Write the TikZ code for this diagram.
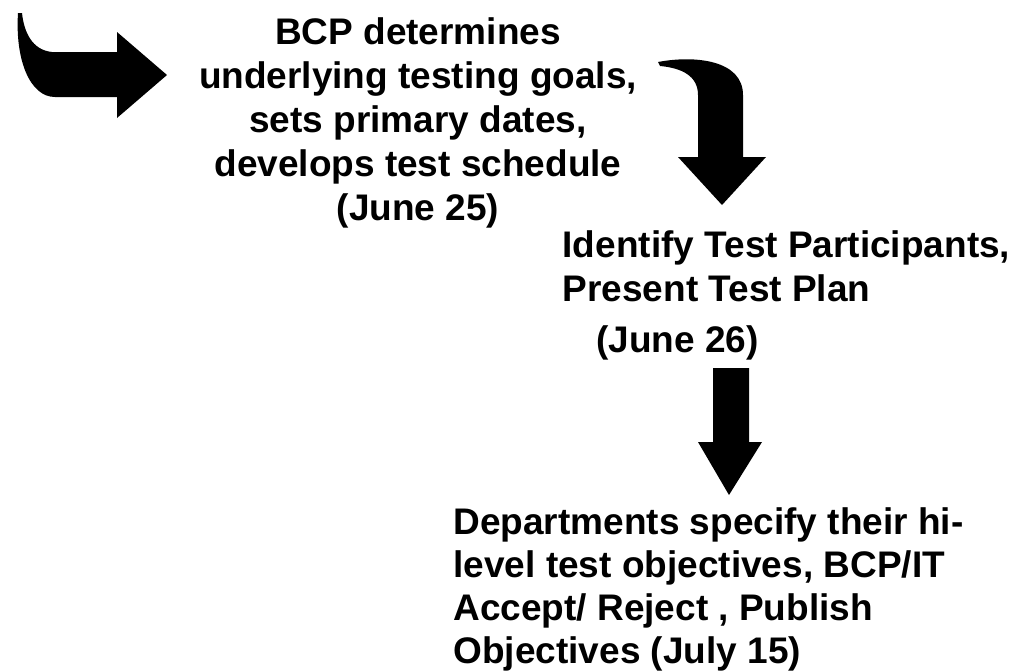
\documentclass[tikz,border=0pt]{standalone}
\usepackage{fontspec}
\newfontfamily\labelfont{Liberation Sans}
\begin{document}
\begin{tikzpicture}[x=1pt,y=-1pt,
  blockarrow/.style={fill=black,draw=none},
  steptext/.style={inner sep=0pt,font=\labelfont\bfseries\fontsize{37}{44}\selectfont}]
\useasboundingbox (0,0) rectangle (1031,672);

% curved entry arrow
\fill[blockarrow] (18,13) .. controls (15,60) and (30,97) .. (55,97)
  -- (117,97) -- (117,118) -- (167,75) -- (117,32) -- (117,52) -- (52,52)
  .. controls (32,50) and (24,32) .. (22,13) -- cycle;

% curved arrow down to the second step
\fill[blockarrow] (658,62) .. controls (695,55) and (743,60) .. (743,95)
  -- (743,157) -- (766,157) -- (722,205) -- (678,157) -- (698,157)
  -- (698,95) .. controls (698,76) and (682,68) .. (660,66) -- cycle;

% straight arrow down to the third step
\fill[blockarrow] (713,368) -- (749,368) -- (749,442) -- (762,442)
  -- (729,495) -- (698,442) -- (713,442) -- cycle;

\node[steptext,align=center,anchor=north] (goals) at (418,17)
  {BCP determines\\underlying testing goals,\\sets primary dates,\\develops test schedule\\(June 25)};

\node[steptext,align=left,anchor=north west] (participants) at (562.5,230)
  {Identify Test Participants,\\Present Test Plan};
\node[steptext,anchor=north west] (date26) at (596,325) {(June 26)};

\node[steptext,align=left,anchor=north west,
  font=\labelfont\bfseries\fontsize{37}{43}\selectfont] (objectives) at (453.3,507)
  {Departments specify their hi-\\level test objectives, BCP/IT\\Accept/ Reject , Publish\\Objectives (July 15)};
\end{tikzpicture}
\end{document}
